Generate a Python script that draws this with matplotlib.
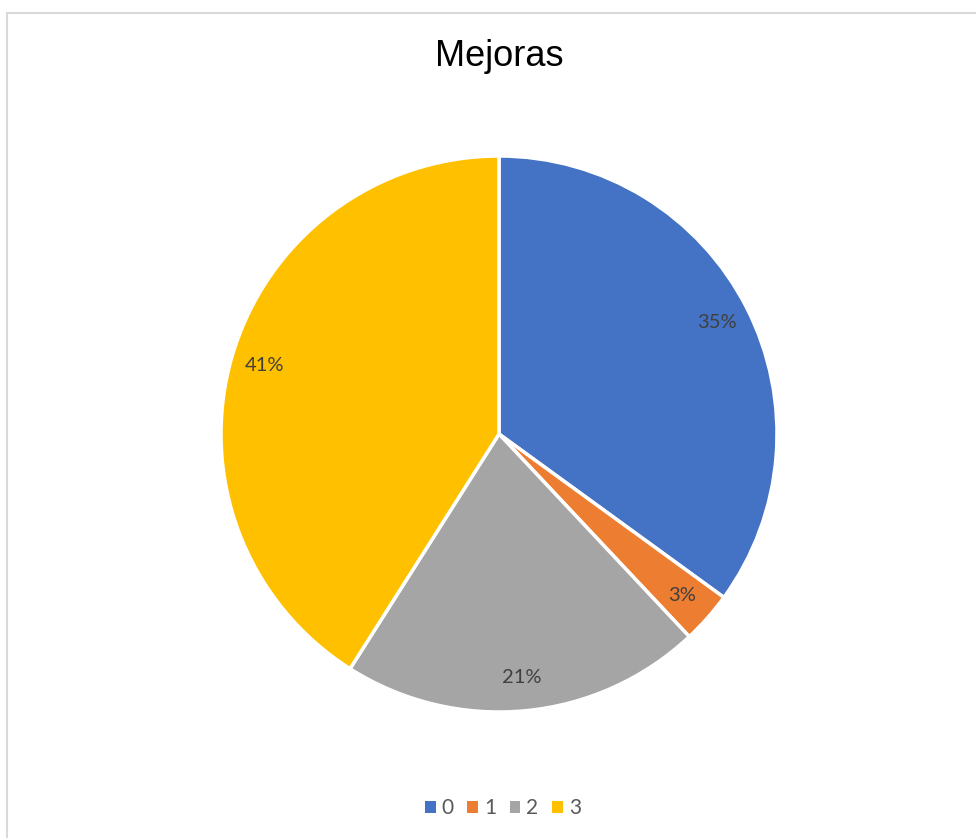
import matplotlib.pyplot as plt
from matplotlib.patches import Rectangle, Patch

categories = ['0', '1', '2', '3']
values = [35, 3, 21, 41]
colors = ['#4472C4', '#ED7D31', '#A5A5A5', '#FFC000']

fig = plt.figure(figsize=(9.76, 8.38), dpi=100)

# light frame around the chart area
fig.patches.append(Rectangle((7 / 976, -0.01), 1.0, 1 - 13 / 838 + 0.01,
                             transform=fig.transFigure, fill=False,
                             edgecolor='#D9D9D9', linewidth=1.5))

ax = fig.add_axes([(499 - 278) / 976, (838 - 434 - 278) / 838, 556 / 976, 556 / 838])
wedges, texts, autotexts = ax.pie(values, colors=colors, startangle=90, counterclock=False,
                                  autopct='%1.0f%%', pctdistance=0.88,
                                  wedgeprops=dict(edgecolor='white', linewidth=2.5),
                                  textprops=dict(color='#404040', fontsize=14.5, family='Lato'))
ax.set_xlim(-1, 1)
ax.set_ylim(-1, 1)
ax.set_aspect('equal')

fig.text(499 / 976, 1 - 57 / 838, 'Mejoras', ha='center', va='center',
         fontsize=26, family='Liberation Sans', color='black')

handles = [Patch(facecolor=c, edgecolor='none') for c in colors]
fig.legend(handles, categories, loc='center', bbox_to_anchor=(503 / 976, 1 - 808 / 838),
           ncol=4, frameon=False, handlelength=0.5, handleheight=0.5, handletextpad=0.3,
           columnspacing=0.65, prop=dict(family='Lato', size=15), labelcolor='#595959')

fig.savefig('out.png', dpi=100)
